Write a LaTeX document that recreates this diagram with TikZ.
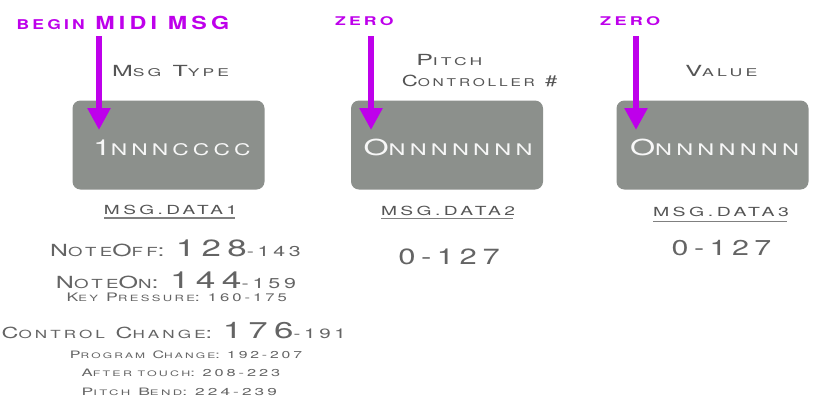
\documentclass[tikz,border=0pt]{standalone}
\usepackage{fontspec}
\usepackage{graphicx}
\usetikzlibrary{arrows.meta}
\newfontfamily\wf[LetterSpace=18]{TeX Gyre Heros}
\definecolor{purp}{RGB}{190,0,235}
\definecolor{boxgray}{RGB}{140,144,140}
\definecolor{txtgray}{RGB}{85,85,85}
\definecolor{listgray}{RGB}{100,100,100}
\newcommand{\fsz}[1]{\fontsize{#1}{#1}\selectfont}
\newcommand{\Sc}[2]{{\fsz{#1}\MakeUppercase{#2}}}
\newcommand{\sx}[2]{\resizebox{#1pt}{\height}{#2}}
\begin{document}
\begin{tikzpicture}[x=1pt,y=-1pt,
  field/.style={fill=boxgray, rounded corners=8pt, minimum width=192pt, minimum height=89pt, inner sep=0pt},
  bits/.style={text=white!93!boxgray, anchor=base, inner sep=0pt, font=\wf\fsz{22}},
  lab/.style={text=txtgray, anchor=base, inner sep=0pt, font=\wf\fsz{15.3}},
  purptext/.style={text=purp, anchor=base, inner sep=0pt, font=\wf\bfseries\fsz{18}},
  marker/.style={draw=purp, line width=6pt, -{Triangle[width=22pt,length=22pt]}},
  reg/.style={text=txtgray, anchor=base, inner sep=0pt, font=\wf\fsz{12.5}},
  uline/.style={draw=txtgray!75, line width=1.4pt},
  rng/.style={text=listgray, anchor=base, inner sep=0pt, font=\wf\fsz{22}},
  listitem/.style={text=listgray, anchor=base, inner sep=0pt, font=\wf}
]
\useasboundingbox (0,0) rectangle (818,408);
\fill[white] (0,0) rectangle (818,408);

% boxes
\node[field] (b1) at (168.5,145) {};
\node[field] (b2) at (447,145) {};
\node[field] (b3) at (712.5,145) {};
\node[bits] (t1) at (172,155) {\sx{157}{1\Sc{16}{nnncccc}}};
\node[bits] (t2) at (448,155) {\sx{169}{O\Sc{16}{nnnnnnn}}};
\node[bits] (t3) at (714.5,155) {\sx{169}{O\Sc{16}{nnnnnnn}}};

% labels above
\node[lab] (l1) at (170.5,76) {\sx{117}{M\Sc{10.7}{sg} T\Sc{10.7}{ype}}};
\node[lab] (l2a) at (449.3,65) {\sx{66}{P\Sc{10.7}{itch}}};
\node[lab] (l2b) at (479.6,86) {\sx{155.5}{C\Sc{10.7}{ontroller} \#}};
\node[lab] (l3) at (721.3,76) {\sx{72}{V\Sc{10.7}{alue}}};

% purple markers
\node[purptext] (p1) at (123,29) {\sx{212.5}{\Sc{13.5}{begin} MIDI MSG}};
\node[purptext] (p2) at (364.3,25) {\sx{58.5}{\Sc{12}{zero}}};
\node[purptext] (p3) at (630.2,25) {\sx{60}{\Sc{12}{zero}}};
\coordinate (s1) at (99,36);  \coordinate (e1) at (99,130);
\coordinate (s2) at (371,36); \coordinate (e2) at (371,130);
\coordinate (s3) at (636,36); \coordinate (e3) at (636,130);
\draw[marker] (s1) -- (e1);
\draw[marker] (s2) -- (e2);
\draw[marker] (s3) -- (e3);

% register names
\node[reg] (m1) at (170.5,214) {\sx{133}{MSG.DATA1}};
\node[reg] (m2) at (448,215) {\sx{134}{MSG.DATA2}};
\node[reg] (m3) at (721,216.7) {\sx{136}{MSG.DATA3}};
\coordinate (u1a) at (104,218); \coordinate (u1b) at (235,218);
\coordinate (u2a) at (381,218.5); \coordinate (u2b) at (513,218.5);
\coordinate (u3a) at (653,221.5); \coordinate (u3b) at (787,221.5);
\draw[uline] (u1a) -- (u1b);
\draw[uline] (u2a) -- (u2b);
\draw[uline] (u3a) -- (u3b);

% ranges
\node[rng] (r2) at (449,264) {\sx{101.5}{0-127}};
\node[rng] (r3) at (721.5,255) {\sx{99.7}{\fsz{21.5}0-127}};

% list
\node[listitem] (n1) at (175.5,256.7) {\sx{250.5}{\fsz{16.7}N\Sc{12.5}{ote}O\Sc{12.5}{ff}: {\fsz{23.5}128}{\fsz{14.3}-143}}};
\node[listitem] (n2) at (176,288.3) {\sx{240}{\fsz{16.7}N\Sc{12.5}{ote}O\Sc{12.5}{n}: {\fsz{23.5}144}{\fsz{14.3}-159}}};
\node[listitem] (n3) at (176.8,301.7) {\sx{220.3}{\fsz{11.7}K\Sc{8.6}{ey} P\Sc{8.6}{ressure}: {\fsz{11}160-175}}};
\node[listitem] (n4) at (173.8,338) {\sx{344.2}{\fsz{15.3}C\Sc{11.2}{ontrol} C\Sc{11.2}{hange}: {\fsz{22.8}176}{\fsz{13.5}-191}}};
\node[listitem] (n5) at (186,358.3) {\sx{232}{\fsz{10.2}P\Sc{7.6}{rogram} C\Sc{7.6}{hange}: {\fsz{10}192-207}}};
\node[listitem] (n6) at (181,376.7) {\sx{198.6}{\fsz{10.2}A\Sc{7.6}{fter touch}: {\fsz{10}208-223}}};
\node[listitem] (n7) at (179.3,395.7) {\sx{195.3}{\fsz{10.2}P\Sc{7.6}{itch} B\Sc{7.6}{end}: {\fsz{10}224-239}}};
\end{tikzpicture}
\end{document}
